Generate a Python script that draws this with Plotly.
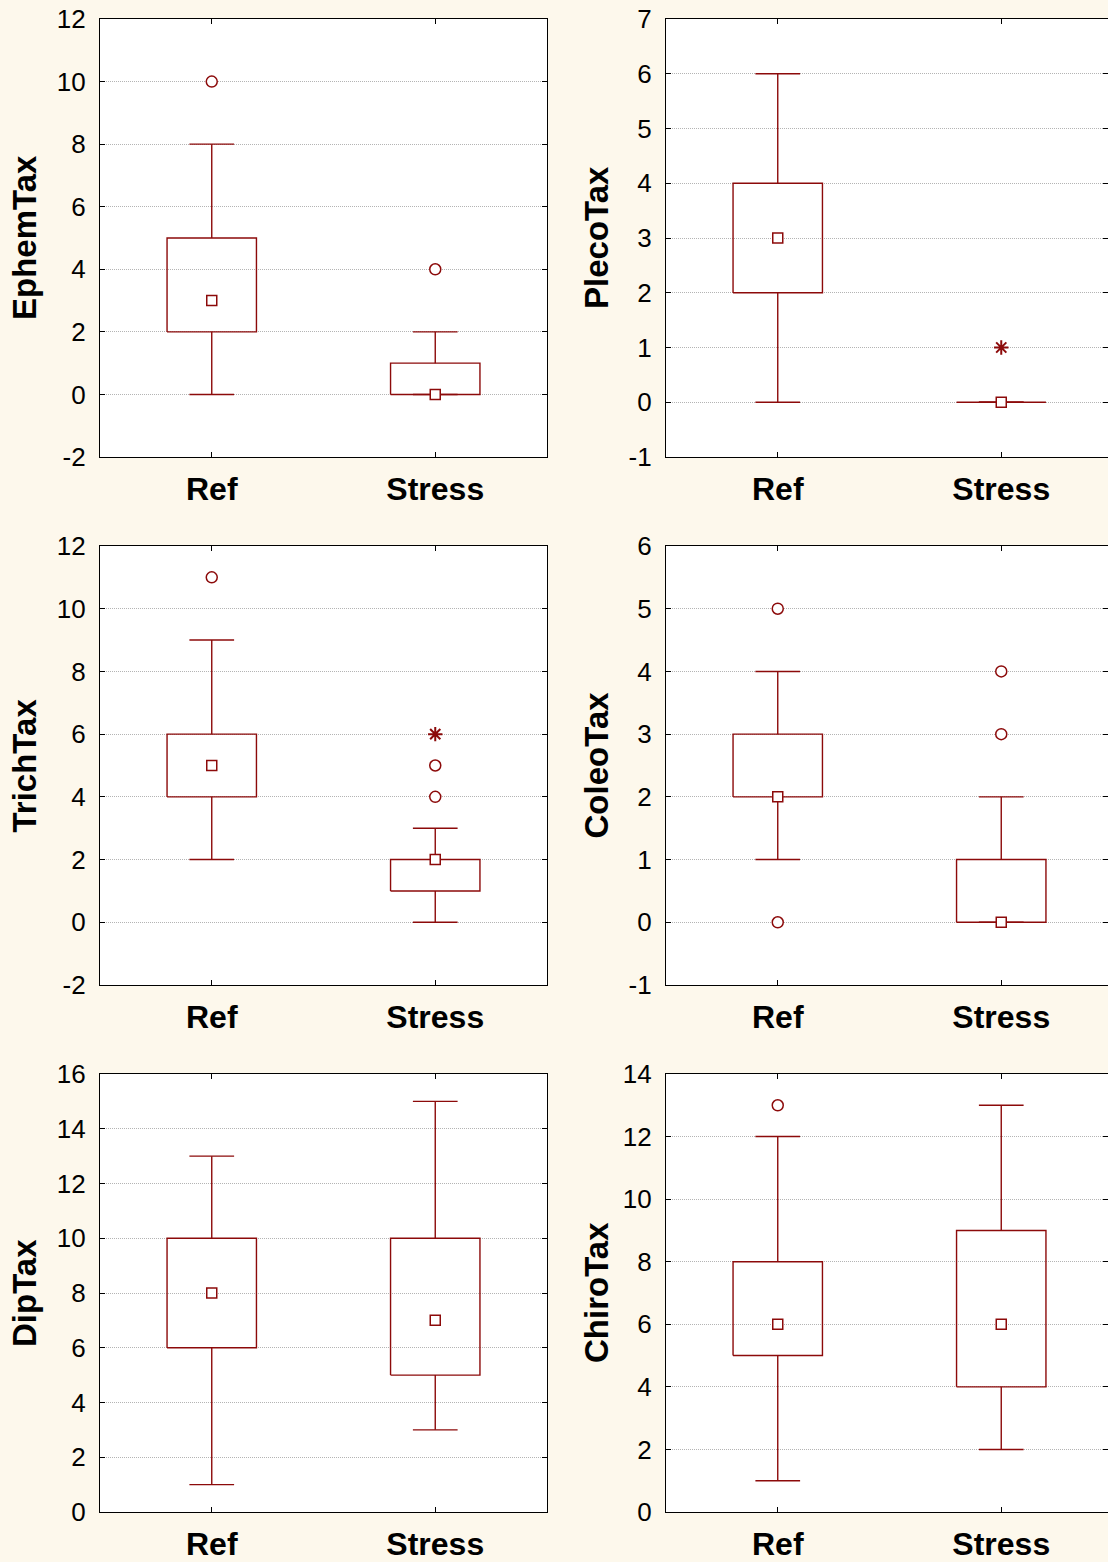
import plotly.graph_objects as go

# ---------------- data ----------------
categories = ["Ref", "Stress"]
variables = ["EphemTax", "PlecoTax", "TrichTax", "ColeoTax", "DipTax", "ChiroTax"]

# per variable: [Ref, Stress]
whisker_min = [[0, 0], [0, 0], [2, 0], [1, 0], [1, 3], [1, 2]]
quart_1 = [[2, 0], [2, 0], [4, 1], [2, 0], [6, 5], [5, 4]]
medians = [[3, 0], [3, 0], [5, 2], [2, 0], [8, 7], [6, 6]]
quart_3 = [[5, 1], [4, 0], [6, 2], [3, 1], [10, 10], [8, 9]]
whisker_max = [[8, 2], [6, 0], [9, 3], [4, 2], [13, 15], [12, 13]]
outliers = [[[10], [4]], [[], []], [[11], [4, 5]], [[5, 0], [3, 4]], [[], []], [[13], []]]
extremes = [[[], []], [[], [1]], [[], [6]], [[], []], [[], []], [[], []]]

y_ranges = [[-2, 12], [-1, 7], [-2, 12], [-1, 6], [0, 16], [0, 14]]
y_dticks = [2, 1, 2, 1, 2, 2]

# ---------------- style ----------------
RED = "#8c0a0a"
BG = "#fdf8ec"
FONT = "Liberation Sans, Arial, sans-serif"
W, H = 1108, 1562
BOX_HALF = 0.2
CAP_HALF = 0.1

col_px = [(100, 547), (666, 1108)]
row_px = [(19, 457), (546, 985), (1074, 1512)]
unit_px = (547 - 100) / 2.0

fig = go.Figure()

for i, var in enumerate(variables):
    r, c = divmod(i, 2)
    n = i + 1
    xa = "x" if n == 1 else f"x{n}"
    ya = "y" if n == 1 else f"y{n}"
    for j, cat in enumerate(categories):
        xc = j
        lo, a, m, b, hi = whisker_min[i][j], quart_1[i][j], medians[i][j], quart_3[i][j], whisker_max[i][j]
        xs = [xc - BOX_HALF, xc + BOX_HALF, xc + BOX_HALF, xc - BOX_HALF, xc - BOX_HALF, None,
              xc, xc, None, xc, xc, None,
              xc - CAP_HALF, xc + CAP_HALF, None, xc - CAP_HALF, xc + CAP_HALF]
        ys = [a, a, b, b, a, None,
              b, hi, None, a, lo, None,
              hi, hi, None, lo, lo]
        fig.add_trace(go.Scatter(x=xs, y=ys, mode="lines", xaxis=xa, yaxis=ya,
                                 line=dict(color=RED, width=1.4), showlegend=False,
                                 hoverinfo="skip"))
        fig.add_trace(go.Scatter(x=[xc], y=[m], mode="markers", xaxis=xa, yaxis=ya,
                                 marker=dict(symbol="square", size=10, color="white",
                                             line=dict(color=RED, width=1.5)),
                                 showlegend=False, name=f"{cat} median"))
        if outliers[i][j]:
            fig.add_trace(go.Scatter(x=[xc] * len(outliers[i][j]), y=outliers[i][j], mode="markers",
                                     xaxis=xa, yaxis=ya,
                                     marker=dict(symbol="circle", size=11, color="white",
                                                 line=dict(color=RED, width=1.5)),
                                     showlegend=False, name=f"{cat} outliers"))
        if extremes[i][j]:
            fig.add_trace(go.Scatter(x=[xc] * len(extremes[i][j]), y=extremes[i][j], mode="markers",
                                     xaxis=xa, yaxis=ya,
                                     marker=dict(symbol="asterisk-open", size=12, color=RED,
                                                 line=dict(color=RED, width=2)),
                                     showlegend=False, name=f"{cat} extremes"))

    x0, x1 = col_px[c]
    y0, y1 = row_px[r]
    xdom = [x0 / W, x1 / W]
    ydom = [1 - y1 / H, 1 - y0 / H]
    xmax = -0.5 + (x1 - x0) / unit_px
    lo_r, hi_r = y_ranges[i]
    tvals = list(range(lo_r, hi_r + 1, y_dticks[i]))
    ttext = [str(v) for v in tvals]
    axis_common = dict(showline=True, linecolor="black", linewidth=1.2,
                       ticks="inside", ticklen=5, tickcolor="black", tickwidth=1,
                       zeroline=False, automargin=False)
    xkey = "xaxis" if n == 1 else f"xaxis{n}"
    ykey = "yaxis" if n == 1 else f"yaxis{n}"
    fig.layout[xkey] = dict(domain=xdom, anchor=ya, range=[-0.5, xmax],
                            tickvals=[0, 1], ticktext=[f"<b>{t}</b>" for t in categories],
                            tickfont=dict(family=FONT, size=32, color="black"),
                            showgrid=False, mirror="ticks", ticklabelstandoff=3,
                            **axis_common)
    fig.layout[ykey] = dict(domain=ydom, anchor=xa, range=y_ranges[i],
                            tickvals=tvals, ticktext=ttext,
                            tickfont=dict(family=FONT, size=26, color="black"),
                            showgrid=True, gridcolor="#b4b4b4", gridwidth=1, griddash="1px,1px",
                            mirror="ticks", ticklabelstandoff=8,
                            **axis_common)
    fig.add_annotation(text=f"<b>{var}</b>", xref=f"{xa} domain", yref=f"{ya} domain",
                       x=0, y=0.5, xanchor="center", yanchor="middle",
                       xshift=-(76 if c == 0 else 70), textangle=-90, showarrow=False,
                       font=dict(family=FONT, size=33, color="black"))

fig.update_layout(width=W, height=H, margin=dict(l=0, r=0, t=0, b=0),
                  paper_bgcolor=BG, plot_bgcolor="white", showlegend=False)

fig.write_html("out.html")
